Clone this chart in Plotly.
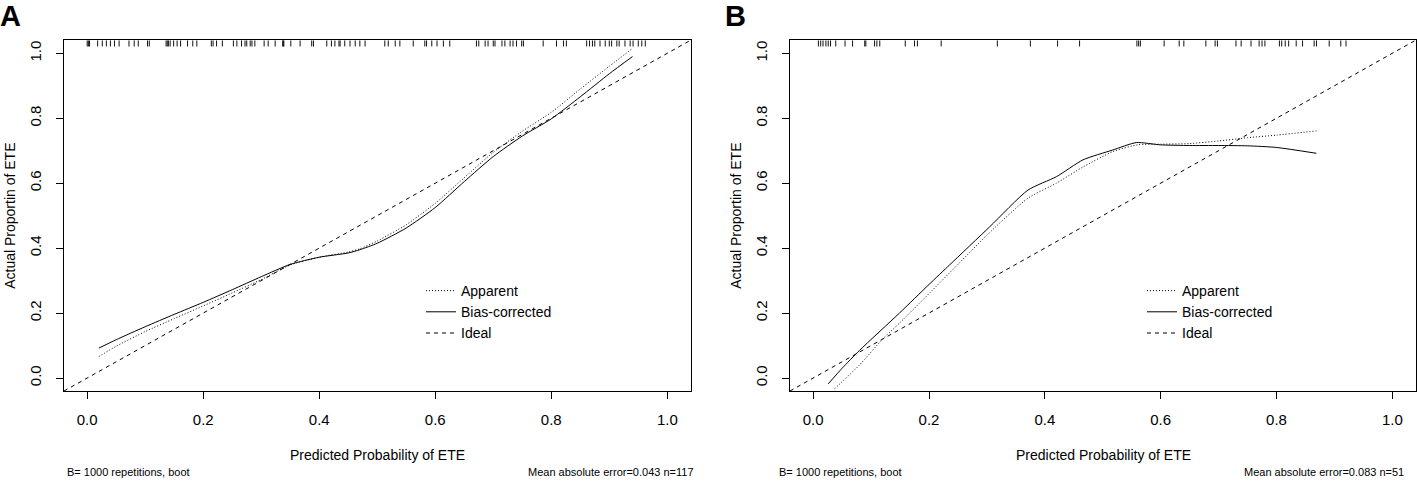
import plotly.graph_objects as go

# ---------------- data ----------------
AX_MIN, AX_MAX = -0.04, 1.04
tick_vals = [0.0, 0.2, 0.4, 0.6, 0.8, 1.0]

# Panel A
a_x = [0.02, 0.05, 0.10, 0.15, 0.20, 0.25, 0.30, 0.35, 0.40, 0.45, 0.47, 0.50,
       0.55, 0.60, 0.65, 0.70, 0.75, 0.80, 0.85, 0.90, 0.94]
a_bias = [0.092, 0.118, 0.158, 0.196, 0.233, 0.272, 0.312, 0.350, 0.372, 0.385, 0.395, 0.415,
          0.462, 0.525, 0.605, 0.682, 0.745, 0.798, 0.866, 0.937, 0.990]
a_app = [0.066, 0.098, 0.143, 0.183, 0.222, 0.262, 0.303, 0.348, 0.372, 0.388, 0.398, 0.422,
         0.472, 0.538, 0.617, 0.695, 0.760, 0.818, 0.890, 0.960, 1.015]
a_rug = [0.000, 0.002, 0.004, 0.018, 0.026, 0.033, 0.040, 0.047, 0.055, 0.072, 0.081, 0.088,
         0.104, 0.107, 0.136, 0.138, 0.140, 0.143, 0.149, 0.155, 0.161, 0.173, 0.182, 0.189,
         0.214, 0.217, 0.223, 0.233, 0.252, 0.258, 0.266, 0.272, 0.275, 0.281, 0.284, 0.289,
         0.305, 0.312, 0.324, 0.337, 0.338, 0.339, 0.351, 0.367, 0.387, 0.390, 0.413, 0.421,
         0.427, 0.434, 0.436, 0.444, 0.453, 0.462, 0.470, 0.479, 0.513, 0.519, 0.531, 0.539,
         0.562, 0.582, 0.585, 0.594, 0.603, 0.614, 0.625, 0.671, 0.675, 0.686, 0.691, 0.700,
         0.703, 0.715, 0.720, 0.729, 0.734, 0.740, 0.749, 0.752, 0.786, 0.809, 0.821, 0.826,
         0.861, 0.866, 0.871, 0.875, 0.884, 0.893, 0.900, 0.904, 0.913, 0.917, 0.927, 0.936,
         0.941, 0.950, 0.956, 0.962]

# Panel B
b_x_bias = [0.026, 0.05, 0.08, 0.149, 0.20, 0.236, 0.305, 0.371, 0.42, 0.466, 0.517, 0.558,
            0.60, 0.65, 0.70, 0.75, 0.80, 0.869]
b_bias = [-0.018, 0.030, 0.085, 0.200, 0.288, 0.349, 0.466, 0.579, 0.620, 0.672, 0.702, 0.725,
          0.718, 0.716, 0.716, 0.715, 0.710, 0.692]
b_x_app = [0.037, 0.08, 0.12, 0.149, 0.20, 0.25, 0.30, 0.371, 0.42, 0.466, 0.517, 0.56,
           0.60, 0.65, 0.70, 0.75, 0.80, 0.869]
b_app = [-0.033, 0.040, 0.120, 0.169, 0.260, 0.350, 0.440, 0.554, 0.600, 0.650, 0.697, 0.718,
         0.720, 0.722, 0.730, 0.740, 0.748, 0.761]
b_rug = [0.009, 0.013, 0.017, 0.022, 0.026, 0.030, 0.039, 0.055, 0.068, 0.089, 0.091, 0.106,
         0.110, 0.115, 0.159, 0.175, 0.180, 0.221, 0.318, 0.375, 0.422, 0.460, 0.559, 0.562,
         0.565, 0.606, 0.632, 0.640, 0.678, 0.694, 0.698, 0.730, 0.739, 0.756, 0.770, 0.775,
         0.780, 0.805, 0.809, 0.815, 0.821, 0.834, 0.845, 0.865, 0.869, 0.891, 0.911, 0.920]

RUG_TOP, RUG_BOTTOM = 1.04, 1.021

x_title = "Predicted Probability of ETE"
y_title = "Actual Proportin of ETE"
foot_left = "B= 1000 repetitions, boot"
foot_right_a = "Mean absolute error=0.043 n=117"
foot_right_b = "Mean absolute error=0.083 n=51"

# ---------------- figure ----------------
W, H = 1417, 481
FONT = "Liberation Sans, Arial, sans-serif"

fig = go.Figure()


def rug_xy(vals):
    xs, ys = [], []
    for v in vals:
        xs += [v, v, None]
        ys += [RUG_TOP, RUG_BOTTOM, None]
    return xs, ys


def add_panel(xa, ya, xb, yb, xapp, yapp, rug, legend_name):
    rx, ry = rug_xy(rug)
    fig.add_trace(go.Scatter(x=rx, y=ry, mode="lines", line=dict(color="#111", width=1),
                             showlegend=False, hoverinfo="skip", xaxis=xa, yaxis=ya))
    fig.add_trace(go.Scatter(x=xapp, y=yapp, mode="lines", name="Apparent",
                             line=dict(color="black", width=1, dash="1px,2px",
                                       shape="spline", smoothing=0.6),
                             xaxis=xa, yaxis=ya, legend=legend_name))
    fig.add_trace(go.Scatter(x=xb, y=yb, mode="lines", name="Bias-corrected",
                             line=dict(color="black", width=1, shape="spline", smoothing=0.6),
                             xaxis=xa, yaxis=ya, legend=legend_name))
    fig.add_trace(go.Scatter(x=[AX_MIN, AX_MAX], y=[AX_MIN, AX_MAX], mode="lines", name="Ideal",
                             line=dict(color="black", width=1, dash="4px,4px"),
                             xaxis=xa, yaxis=ya, legend=legend_name))


add_panel("x", "y", a_x, a_bias, a_x, a_app, a_rug, "legend")
add_panel("x2", "y2", b_x_bias, b_bias, b_x_app, b_app, b_rug, "legend2")

axis_common = dict(range=[AX_MIN, AX_MAX], showline=True, mirror=True, linecolor="black",
                   linewidth=1, ticks="outside", ticklen=7, tickcolor="black", tickwidth=1,
                   tickvals=tick_vals, tickformat=".1f", showgrid=False, zeroline=False,
                   tickfont=dict(family=FONT, size=15, color="black"))

yd = [1 - 391 / H, 1 - 40.3 / H]
fig.update_layout(
    xaxis=dict(domain=[64 / W, 690.5 / W], anchor="y", ticklabelstandoff=8, **axis_common),
    yaxis=dict(domain=yd, anchor="x", tickangle=-90, ticklabelstandoff=9, **axis_common),
    xaxis2=dict(domain=[790 / W, 1415.5 / W], anchor="y2", ticklabelstandoff=8, **axis_common),
    yaxis2=dict(domain=yd, anchor="x2", tickangle=-90, ticklabelstandoff=9, **axis_common),
)

legend_common = dict(bgcolor="rgba(0,0,0,0)", borderwidth=0, xanchor="left", yanchor="top",
                     font=dict(family=FONT, size=14, color="black"), itemwidth=30,
                     traceorder="normal")
fig.update_layout(
    legend=dict(x=421 / W, y=1 - 275 / H, **legend_common),
    legend2=dict(x=1142 / W, y=1 - 275 / H, **legend_common),
)

ann = []
for lab, px in (("A", 10), ("B", 735)):
    ann.append(dict(text=f"<b>{lab}</b>", x=px / W, y=1 - 16 / H, xref="paper", yref="paper",
                    xanchor="center", yanchor="middle", showarrow=False,
                    font=dict(family=FONT, size=29, color="black")))
for cx, ty in ((377, 10), (1103, 736)):
    ann.append(dict(text=x_title, x=cx / W, y=1 - 455 / H, xref="paper", yref="paper",
                    xanchor="center", yanchor="middle", showarrow=False,
                    font=dict(family=FONT, size=14, color="black")))
    ann.append(dict(text=y_title, x=ty / W, y=1 - 215.8 / H, xref="paper", yref="paper",
                    xanchor="center", yanchor="middle", showarrow=False, textangle=-90,
                    font=dict(family=FONT, size=14, color="black")))
for lx, rx, rtxt in ((65, 696, foot_right_a), (777, 1406, foot_right_b)):
    ann.append(dict(text=foot_left, x=lx / W, y=1 - 472 / H, xref="paper", yref="paper",
                    xanchor="left", yanchor="middle", showarrow=False,
                    font=dict(family=FONT, size=11, color="black")))
    ann.append(dict(text=rtxt, x=rx / W, y=1 - 472 / H, xref="paper", yref="paper",
                    xanchor="right", yanchor="middle", showarrow=False,
                    font=dict(family=FONT, size=11, color="black")))

fig.update_layout(width=W, height=H, margin=dict(l=0, r=0, t=0, b=0),
                  paper_bgcolor="white", plot_bgcolor="white", annotations=ann)

fig.write_html("out.html", config={"displayModeBar": False},
               post_script="document.body.style.margin='0';document.body.style.overflow='hidden';")
